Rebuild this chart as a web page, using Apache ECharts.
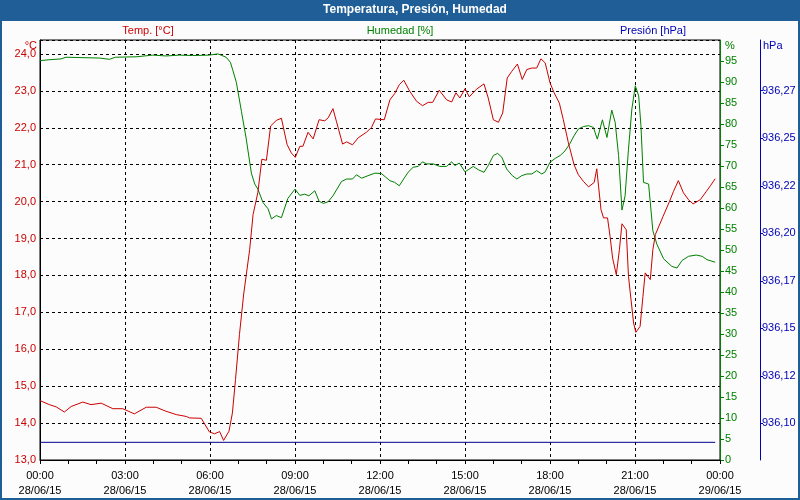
<!DOCTYPE html>
<html><head><meta charset="utf-8">
<script src="https://cdn.jsdelivr.net/npm/echarts@6/dist/echarts.min.js"></script>
<style>html,body{margin:0;padding:0;background:#fff}#c{width:800px;height:500px}</style>
</head><body><div id="c"></div>
<script>
// ---- data ----
const xTickValues = [0, 3, 6, 9, 12, 15, 18, 21, 24];
const xTickLabels = ['00:00\n28/06/15','03:00\n28/06/15','06:00\n28/06/15','09:00\n28/06/15','12:00\n28/06/15','15:00\n28/06/15','18:00\n28/06/15','21:00\n28/06/15','00:00\n29/06/15'];
const tempTickValues = [13,14,15,16,17,18,19,20,21,22,23,24];
const tempTickLabels = ['13,0','14,0','15,0','16,0','17,0','18,0','19,0','20,0','21,0','22,0','23,0','24,0'];
const humTickValues = [0,5,10,15,20,25,30,35,40,45,50,55,60,65,70,75,80,85,90,95];
const humTickLabels = ['0','5','10','15','20','25','30','35','40','45','50','55','60','65','70','75','80','85','90','95'];
const presTickValues = [936.1, 936.125, 936.15, 936.175, 936.2, 936.225, 936.25, 936.275];
const presTickLabels = ['936,10','936,12','936,15','936,17','936,20','936,22','936,25','936,27'];

// hours since 00:00 28/06/15
const tempTimes = [0,0.33,0.57,0.86,1.10,1.51,1.80,2.16,2.57,2.92,3.33,3.75,4.10,4.45,4.81,5.16,5.28,5.69,5.98,6.16,6.34,6.48,6.67,6.79,6.90,7.04,7.19,7.40,7.52,7.69,7.83,7.99,8.14,8.34,8.52,8.72,8.87,9.01,9.17,9.28,9.46,9.64,9.85,10.05,10.17,10.34,10.46,10.68,10.82,11.03,11.23,11.52,11.70,11.84,12.15,12.35,12.52,12.68,12.84,13.05,13.29,13.50,13.70,13.86,14.09,14.35,14.53,14.68,14.82,15.00,15.15,15.41,15.67,15.82,16.00,16.18,16.33,16.49,16.65,16.85,17.02,17.18,17.36,17.53,17.68,17.83,18.00,18.14,18.33,18.47,18.65,18.85,19.00,19.18,19.36,19.56,19.65,19.80,19.89,20.03,20.12,20.21,20.34,20.45,20.54,20.69,20.77,20.86,20.95,21.03,21.18,21.28,21.36,21.54,21.63,21.72,21.99,22.22,22.36,22.53,22.71,22.89,23.05,23.30,23.52,23.66,23.83];
const tempValues = [14.61,14.50,14.44,14.30,14.45,14.57,14.50,14.54,14.39,14.39,14.25,14.43,14.43,14.32,14.23,14.18,14.14,14.13,13.76,13.71,13.77,13.53,13.78,14.27,15.18,16.40,17.50,18.70,19.65,20.25,21.15,21.12,22.05,22.20,22.26,21.55,21.32,21.20,21.50,21.50,21.88,21.70,22.22,22.19,22.27,22.52,22.18,21.56,21.62,21.54,21.73,21.88,22.01,22.24,22.22,22.76,22.93,23.17,23.29,22.99,22.72,22.60,22.69,22.69,23.02,22.76,22.70,22.95,22.81,23.06,22.84,23.05,23.19,22.81,22.22,22.15,22.40,23.35,23.53,23.73,23.31,23.58,23.62,23.62,23.87,23.76,23.22,22.96,22.67,22.22,21.59,21.00,20.73,20.55,20.40,20.52,20.89,19.78,19.56,19.56,19.06,18.47,18.02,18.70,19.40,19.24,17.98,17.34,16.71,16.46,16.62,17.43,18.07,17.89,18.70,19.11,19.60,20.01,20.28,20.57,20.24,20.05,19.94,20.05,20.28,20.43,20.62];

const humTimes = [0,0.33,0.74,0.92,2.10,2.45,2.66,3.39,3.98,4.45,4.92,5.39,5.98,6.28,6.57,6.72,6.81,6.93,7.11,7.28,7.46,7.58,7.69,7.87,8.05,8.17,8.34,8.52,8.75,9.00,9.17,9.34,9.49,9.70,9.85,10.01,10.17,10.34,10.64,10.82,11.03,11.17,11.35,11.58,11.82,12.05,12.35,12.52,12.68,12.99,13.17,13.35,13.50,13.64,13.88,14.11,14.35,14.53,14.64,14.80,15.00,15.29,15.47,15.67,15.82,16.00,16.15,16.30,16.47,16.67,16.83,17.00,17.18,17.36,17.53,17.71,17.83,18.00,18.18,18.36,18.53,18.69,18.85,19.00,19.18,19.36,19.53,19.67,19.85,20.01,20.18,20.30,20.42,20.54,20.65,20.77,20.89,21.01,21.13,21.21,21.30,21.48,21.63,21.77,22.01,22.30,22.48,22.66,22.89,23.16,23.37,23.54,23.83];
const humValues = [95.1,95.3,95.5,95.9,95.7,95.4,95.9,96.0,96.4,96.2,96.4,96.3,96.4,96.7,95.9,94.7,92.7,89.9,83.0,76.4,68.3,65.7,64.5,61.3,59.8,57.4,58.2,57.7,62.3,64.5,63.0,63.3,62.9,64.1,61.6,61.1,61.5,62.9,66.3,66.9,66.9,67.9,67.1,67.7,68.3,68.2,66.5,66.1,65.3,68.5,69.7,69.9,71.0,70.5,70.5,69.9,69.9,71.0,70.1,70.7,68.6,69.9,69.1,68.5,70.1,72.5,73.0,72.1,69.3,67.7,66.9,67.7,68.1,68.1,68.9,68.1,68.6,70.9,71.8,72.5,73.6,75.2,77.2,78.8,79.4,79.6,79.2,76.4,81.0,76.8,83.3,80.4,72.5,59.5,62.9,74.0,83.6,89.1,86.7,79.6,66.1,65.7,54.6,51.4,47.9,46.1,45.7,47.5,48.5,48.8,48.5,47.7,47.1];

const presTimes = [0, 23.83];
const presValues = [936.09, 936.09];

// ---- chart ----
const FONT = 'Liberation Sans';
const RED = '#cc0000', GREEN = '#008000', BLUE = '#0000b4', BAR = '#1f5e96';
const pair = (ts, vs) => ts.map((t, i) => [t, vs[i]]);
const lookup = (vals, labs, v) => {
  let best = -1, d = 1e9;
  vals.forEach((x, i) => { const dd = Math.abs(x - v); if (dd < d) { d = dd; best = i; } });
  return d < 1e-6 ? labs[best] : '';
};

const chart = echarts.init(document.getElementById('c'), null, {renderer: 'canvas'});
chart.setOption({
  backgroundColor: '#fbfcfb',
  animation: false,
  textStyle: {fontFamily: FONT},
  grid: {left: 40, right: 80, top: 40, bottom: 40, show: true, borderColor: '#000', borderWidth: 1, backgroundColor: 'transparent'},
  xAxis: {
    type: 'value', min: 0, max: 24, interval: 3,
    axisLine: {show: true, lineStyle: {color: '#000', width: 1}},
    axisTick: {show: true, length: 4, lineStyle: {color: '#000'}},
    minorTick: {show: true, splitNumber: 3, length: 4, lineStyle: {color: '#000'}},
    splitLine: {show: true, lineStyle: {color: '#000', type: [3, 3], width: 1}},
    axisLabel: {color: '#000', fontSize: 11, fontFamily: FONT, lineHeight: 15, margin: 8,
      formatter: v => lookup(xTickValues, xTickLabels, v)}
  },
  yAxis: [
    {
      type: 'value', position: 'left', min: 13, max: 24.38, interval: 1,
      axisLine: {show: true, lineStyle: {color: '#000', width: 1}},
      axisTick: {show: false},
      splitLine: {show: true, lineStyle: {color: '#000', type: [3, 3], width: 1}},
      axisLabel: {color: RED, fontSize: 11, fontFamily: FONT, margin: 4, showMaxLabel: false,
        formatter: v => lookup(tempTickValues, tempTickLabels, v)}
    },
    {
      type: 'value', position: 'right', min: 0, max: 100, interval: 5,
      axisLine: {show: true, lineStyle: {color: GREEN, width: 1}},
      axisTick: {show: true, inside: false, length: 4, lineStyle: {color: GREEN}},
      splitLine: {show: false},
      axisLabel: {color: GREEN, fontSize: 11, fontFamily: FONT, margin: 5, showMaxLabel: false,
        formatter: v => lookup(humTickValues, humTickLabels, v)}
    },
    {
      type: 'value', position: 'right', offset: 40, min: 936.0807, max: 936.3017,
      axisLine: {show: true, lineStyle: {color: BLUE, width: 1}},
      axisTick: {show: true, length: 3, customValues: presTickValues, lineStyle: {color: BLUE}},
      splitLine: {show: false},
      axisLabel: {color: BLUE, fontSize: 11, fontFamily: FONT, margin: 2, customValues: presTickValues,
        formatter: v => lookup(presTickValues, presTickLabels, v)}
    }
  ],
  series: [
    {name: 'Humedad', type: 'line', yAxisIndex: 1, showSymbol: false, data: pair(humTimes, humValues),
      lineStyle: {color: GREEN, width: 1}, itemStyle: {color: GREEN}},
    {name: 'Temp', type: 'line', yAxisIndex: 0, showSymbol: false, data: pair(tempTimes, tempValues),
      lineStyle: {color: RED, width: 1}, itemStyle: {color: RED}},
    {name: 'Presion', type: 'line', yAxisIndex: 2, showSymbol: false, data: pair(presTimes, presValues),
      lineStyle: {color: '#00008c', width: 1}, itemStyle: {color: '#00008c'}}
  ],
  graphic: [
    {type: 'rect', left: 0, top: 0, shape: {width: 800, height: 21}, style: {fill: BAR}, silent: true},
    {type: 'rect', shape: {x: 1, y: 1, width: 798, height: 498}, style: {fill: 'none', stroke: BAR, lineWidth: 2}, silent: true},
    {type: 'text', x: 415, y: 10, style: {text: 'Temperatura, Presión, Humedad', fill: '#fff', font: 'bold 12px ' + FONT, align: 'center', verticalAlign: 'middle'}},
    {type: 'text', x: 148, y: 31, style: {text: 'Temp. [°C]', fill: RED, font: '11px ' + FONT, align: 'center', verticalAlign: 'middle'}},
    {type: 'text', x: 400, y: 31, style: {text: 'Humedad [%]', fill: GREEN, font: '11px ' + FONT, align: 'center', verticalAlign: 'middle'}},
    {type: 'text', x: 653, y: 31, style: {text: 'Presión [hPa]', fill: BLUE, font: '11px ' + FONT, align: 'center', verticalAlign: 'middle'}},
    {type: 'text', x: 37, y: 46, style: {text: '°C', fill: RED, font: '11px ' + FONT, align: 'right', verticalAlign: 'middle'}},
    {type: 'text', x: 725, y: 46, style: {text: '%', fill: GREEN, font: '11px ' + FONT, align: 'left', verticalAlign: 'middle'}},
    {type: 'text', x: 763, y: 46, style: {text: 'hPa', fill: BLUE, font: '11px ' + FONT, align: 'left', verticalAlign: 'middle'}}
  ]
});
</script>
</body></html>
